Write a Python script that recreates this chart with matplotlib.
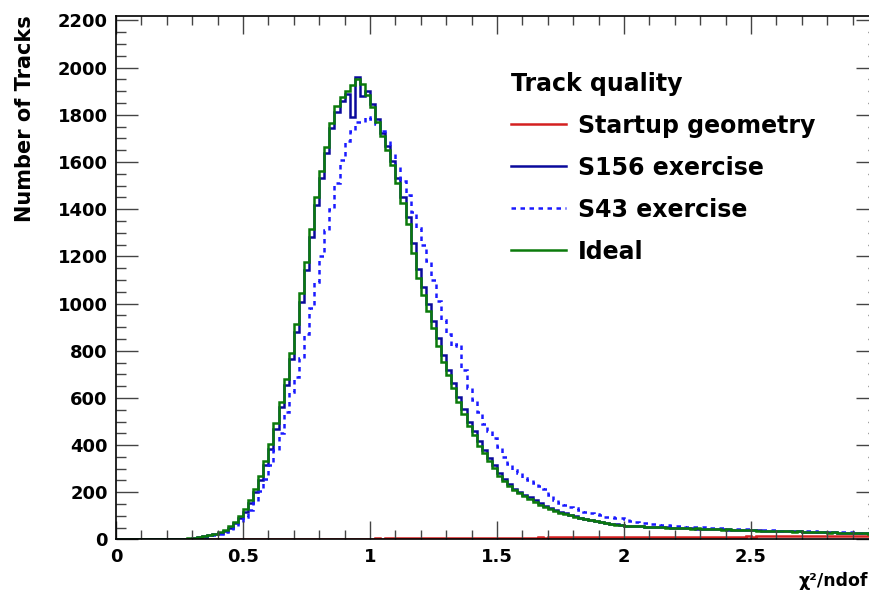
import numpy as np
import matplotlib
matplotlib.use("Agg")
import matplotlib.pyplot as plt
from matplotlib.ticker import MultipleLocator, FuncFormatter

plt.rcParams['font.family'] = ['DejaVu Sans']
plt.rcParams['font.weight'] = 'bold'
plt.rcParams['axes.labelweight'] = 'bold'

# histogram binning: 150 bins from 0 to 3
bin_lo = 0.0
bin_hi = 3.0
n_bins = 150

# entries per bin
startup = [
    0, 0, 0, 0, 0, 0, 0, 0, 0, 0,
    0, 0, 0, 0, 0, 0, 0, 0, 0, 1,
    0, 1, 1, 1, 1, 1, 1, 2, 1, 2,
    2, 2, 2, 2, 2, 3, 2, 3, 3, 3,
    3, 3, 3, 4, 3, 4, 4, 4, 4, 4,
    4, 5, 4, 5, 5, 5, 5, 5, 6, 5,
    6, 6, 6, 6, 6, 6, 7, 6, 7, 7,
    7, 7, 7, 7, 8, 7, 8, 8, 8, 8,
    8, 8, 8, 9, 8, 9, 9, 9, 9, 9,
    9, 9, 10, 9, 10, 10, 10, 10, 10, 10,
    10, 10, 10, 11, 10, 11, 11, 11, 11, 11,
    11, 11, 11, 12, 11, 12, 12, 12, 12, 12,
    12, 12, 12, 12, 13, 12, 13, 13, 13, 13,
    13, 13, 13, 13, 13, 14, 13, 14, 14, 14,
    14, 14, 14, 14, 14, 15, 14, 15, 15, 15,
]

s156 = [
    0, 0, 0, 0, 0, 0, 0, 0, 0, 0,
    0, 1, 1, 2, 4, 6, 9, 13, 17, 23,
    29, 37, 50, 68, 90, 118, 156, 200, 252, 314,
    384, 468, 560, 656, 764, 880, 1008, 1142, 1282, 1418,
    1530, 1640, 1742, 1812, 1860, 1890, 1790, 1962, 1880, 1902,
    1846, 1782, 1724, 1668, 1606, 1534, 1452, 1368, 1256, 1148,
    1070, 996, 924, 852, 782, 720, 662, 604, 552, 500,
    458, 416, 380, 346, 314, 282, 258, 236, 216, 202,
    190, 178, 166, 153, 142, 133, 125, 118, 111, 105,
    99, 93, 88, 83, 79, 75, 71, 67, 64, 61,
    59, 57, 56, 55, 54, 53, 52, 51, 51, 50,
    49, 48, 48, 47, 46, 46, 45, 44, 44, 43,
    42, 42, 41, 41, 40, 39, 39, 38, 37, 37,
    36, 36, 35, 34, 34, 33, 32, 32, 31, 31,
    30, 30, 29, 29, 28, 28, 27, 27, 26, 26,
]

s43 = [
    0, 0, 0, 0, 0, 0, 0, 0, 0, 0,
    0, 0, 1, 2, 3, 4, 6, 9, 12, 17,
    22, 30, 40, 52, 72, 95, 125, 160, 205, 255,
    315, 380, 450, 540, 625, 690, 770, 870, 980, 1090,
    1200, 1310, 1400, 1510, 1610, 1690, 1730, 1770, 1770, 1790,
    1780, 1760, 1730, 1690, 1640, 1580, 1520, 1460, 1390, 1320,
    1250, 1180, 1100, 1010, 930, 870, 820, 830, 720, 640,
    590, 540, 490, 460, 430, 390, 350, 320, 295, 280,
    262, 250, 238, 225, 212, 190, 168, 155, 145, 138,
    132, 125, 118, 112, 106, 102, 97, 94, 92, 90,
    85, 78, 72, 70, 68, 66, 64, 62, 60, 59,
    57, 56, 54, 53, 52, 51, 50, 49, 48, 47,
    46, 45, 44, 44, 43, 42, 41, 40, 40, 39,
    38, 38, 37, 36, 36, 35, 34, 34, 33, 33,
    32, 32, 31, 31, 30, 30, 29, 29, 28, 28,
]

ideal = [
    0, 0, 0, 0, 0, 0, 0, 0, 0, 0,
    1, 1, 2, 3, 5, 7, 10, 14, 19, 25,
    31, 40, 55, 74, 98, 128, 168, 214, 268, 332,
    404, 492, 583, 682, 792, 912, 1043, 1178, 1318, 1452,
    1562, 1664, 1766, 1838, 1876, 1902, 1928, 1953, 1931, 1884,
    1832, 1768, 1712, 1652, 1588, 1512, 1428, 1338, 1214, 1108,
    1038, 968, 896, 822, 754, 698, 641, 584, 532, 481,
    441, 398, 366, 334, 302, 268, 246, 226, 209, 196,
    186, 173, 160, 147, 136, 128, 121, 114, 108, 103,
    97, 92, 86, 81, 77, 73, 69, 66, 62, 60,
    58, 57, 55, 56, 53, 52, 51, 52, 50, 49,
    48, 49, 47, 46, 47, 45, 44, 45, 43, 42,
    43, 41, 42, 40, 39, 40, 38, 37, 38, 36,
    35, 36, 34, 33, 34, 32, 31, 32, 30, 30,
    29, 30, 28, 28, 27, 28, 26, 26, 25, 26,
]

x_ticks = [0, 0.5, 1, 1.5, 2, 2.5]

edges = np.linspace(bin_lo, bin_hi, n_bins + 1)

fig = plt.figure(figsize=(8.7, 5.94), dpi=100)
# frame runs a bit past the right border, like the cropped original
ax = fig.add_axes([0.1333, 0.0918, 0.8759, 0.8818])

ax.stairs(startup, edges, color='#d42020', lw=1.8, label='Startup geometry')
ax.stairs(s156, edges, color='#0a0a9c', lw=1.8, label='S156 exercise')
ax.stairs(s43, edges, color='#1a1aff', lw=1.8, linestyle=(0, (1.8, 1.8)), label='S43 exercise')
ax.stairs(ideal, edges, color='#0b7a0b', lw=1.8, label='Ideal')

ax.set_xlim(0, 3)
ax.set_ylim(0, 2220)

ax.set_xticks(x_ticks)
ax.xaxis.set_minor_locator(MultipleLocator(0.1))
ax.yaxis.set_major_locator(MultipleLocator(200))
ax.yaxis.set_minor_locator(MultipleLocator(50))
ax.xaxis.set_major_formatter(FuncFormatter(lambda v, p: '%g' % v))
ax.yaxis.set_major_formatter(FuncFormatter(lambda v, p: '%g' % v))

ax.tick_params(which='both', direction='in', top=True, right=True,
               width=1, color='#444444', labelsize=13, pad=6)
ax.tick_params(axis='y', which='major', length=15.8)
ax.tick_params(axis='y', which='minor', length=7.2)
ax.tick_params(axis='x', which='major', length=13)
ax.tick_params(axis='x', which='minor', length=6.5)
for sp in ax.spines.values():
    sp.set_linewidth(1.2)

ax.set_ylabel('Number of Tracks', fontsize=15, loc='top')
ax.yaxis.set_label_coords(-0.106, 1.0)
ax.set_xlabel('\u03c7\u00b2/ndof', fontsize=12.5, loc='right')
ax.xaxis.set_label_coords(0.987, -0.062)

leg = ax.legend(title='Track quality', loc='upper left',
                bbox_to_anchor=(0.518, 0.893), frameon=False,
                prop={'size': 17, 'weight': 'bold'},
                title_fontproperties={'size': 17, 'weight': 'bold'},
                alignment='left', borderpad=0, borderaxespad=0,
                handlelength=2.33, handletextpad=0.5, labelspacing=0.76)

fig.savefig('out.png', dpi=100)
